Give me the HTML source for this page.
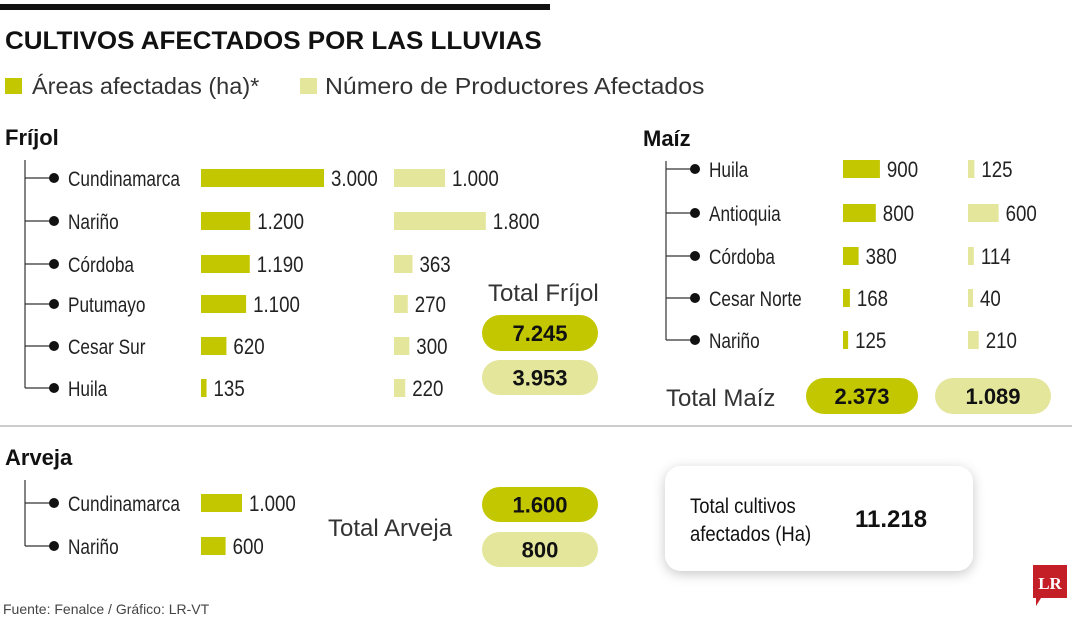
<!DOCTYPE html>
<html><head><meta charset="utf-8"><style>
body{margin:0;background:#fff;width:1080px;height:620px;overflow:hidden;position:relative;font-family:"Liberation Sans",sans-serif}
svg{position:absolute;left:0;top:0}
</style></head><body>
<svg id="chart" width="1080" height="620">
<defs><filter id="sh" x="-20%" y="-30%" width="140%" height="160%"><feDropShadow dx="0" dy="3" stdDeviation="6" flood-color="#000" flood-opacity="0.22"/></filter></defs>
<rect x="0" y="4" width="550" height="6" fill="#111"/>
<text transform="translate(5,49) scale(1.04,1)" font-weight="bold" font-size="25" fill="#111">CULTIVOS AFECTADOS POR LAS LLUVIAS</text>
<rect x="5" y="78" width="17" height="16" fill="#c3c700"/>
<text x="32" y="94" font-size="23.5" fill="#333">Áreas afectadas (ha)*</text>
<rect x="300" y="78" width="17" height="16" fill="#e3e69b"/>
<text transform="translate(325,94) scale(1.08,1)" font-size="23" fill="#333">Número de Productores Afectados</text>
<line x1="0" y1="426" x2="1072" y2="426" stroke="#999" stroke-width="1"/>
<rect x="665" y="466" width="308" height="105" rx="16" fill="#fff" filter="url(#sh)"/>
<text transform="translate(690,513) scale(0.88,1)" font-size="21" fill="#111">Total cultivos</text>
<text transform="translate(690,541) scale(0.88,1)" font-size="21" fill="#111">afectados (Ha)</text>
<text x="855" y="527" font-weight="bold" font-size="24" fill="#111">11.218</text>
<g><path d="M1033 565 H1067 V598 H1041 L1036 606 V598 H1033 Z" fill="#c41e26"/><text x="1050" y="589" text-anchor="middle" font-family="Liberation Serif" font-weight="bold" font-size="17" fill="#fff">LR</text></g>
<text x="3" y="614" font-size="14" fill="#444">Fuente: Fenalce / Gráfico: LR-VT</text>
</svg>
<script>
const frijolCats=["Cundinamarca","Nariño","Córdoba","Putumayo","Cesar Sur","Huila"];
const frijolAreas=[3000,1200,1190,1100,620,135];
const frijolProd=[1000,1800,363,270,300,220];
const maizCats=["Huila","Antioquia","Córdoba","Cesar Norte","Nariño"];
const maizAreas=[900,800,380,168,125];
const maizProd=[125,600,114,40,210];
const arvejaCats=["Cundinamarca","Nariño"];
const arvejaAreas=[1000,600];
const totalsArea=["7.245","2.373","1.600"];
const totalsProd=["3.953","1.089","800"];
const svg=document.getElementById('chart');
const NS="http://www.w3.org/2000/svg";
const DARK="#c3c700",LIGHT="#e3e69b";
function fmt(v){return v>=1000?Math.floor(v/1000)+"."+String(v%1000).padStart(3,"0"):String(v);}
function mk(tag,attrs,txt){const e=document.createElementNS(NS,tag);for(const k in attrs)e.setAttribute(k,attrs[k]);if(txt!==undefined)e.textContent=txt;svg.appendChild(e);return e;}
function ctext(x,y,size,sx,txt){return mk('text',{transform:'translate('+x+','+y+') scale('+sx+',1)','font-size':size,fill:'#222'},txt);}
function xA(v){return v*0.041;}
function xP(v){return v*0.051;}
function group(name,hx,hy,treeX,rowYs,cats,areas,prod,aX,pX){
  const h=mk('text',{x:hx,y:hy,'font-weight':'bold','font-size':22,fill:'#111'},name);
  
  
  const ln=mk('line',{x1:treeX,y1:hy+15,x2:treeX,y2:rowYs[rowYs.length-1],stroke:'#333','stroke-width':1.2});
  
  
  cats.forEach((c,i)=>{
    const y=rowYs[i];
    const br=mk('line',{x1:treeX,y1:y,x2:treeX+28,y2:y,stroke:'#333','stroke-width':1.2});
    
    
    const d=mk('circle',{cx:treeX+29,cy:y,r:5,fill:'#111'});
    
    
    const t=ctext(treeX+43,y+8,21,0.82,c);
    
    
    const w=Math.max(xA(areas[i]),5);
    const b=mk('rect',{x:aX,y:y-9,width:w,height:18,fill:DARK});
    
    
    const v=ctext(aX+w+7,y+8,22,0.85,fmt(areas[i]));
    
    
    if(prod){
      const w2=Math.max(xP(prod[i]),5);
      const b2=mk('rect',{x:pX,y:y-9,width:w2,height:18,fill:LIGHT});
      
      
      const v2=ctext(pX+w2+7,y+8,22,0.85,fmt(prod[i]));
      
      
    }
  });
}
group("Fríjol",5,145,25,[178,221,264,304,346,388],frijolCats,frijolAreas,frijolProd,201,394);
group("Maíz",643,146,666,[169,213,256,298,340],maizCats,maizAreas,maizProd,843,968);
group("Arveja",5,465,25,[503,546],arvejaCats,arvejaAreas,null,201,0);
function pill(x,y,w,h,fill,txt){
  const r=mk('rect',{x:x,y:y,width:w,height:h,rx:h/2,fill:fill});
  
  
  const t=mk('text',{x:x+w/2,y:y+h/2+8,'text-anchor':'middle','font-weight':'bold','font-size':22,fill:'#111'},txt);
  
  
}
function lbl(x,y,txt){
  const t=mk('text',{x:x,y:y,'font-size':24,fill:'#333'},txt);
  
  
}
lbl(488,301,"Total Fríjol");
pill(482,315,116,36,DARK,totalsArea[0]);
pill(482,360,116,35,LIGHT,totalsProd[0]);
lbl(666,406,"Total Maíz");
pill(806,378,112,36,DARK,totalsArea[1]);
pill(935,378,116,36,LIGHT,totalsProd[1]);
lbl(328,536,"Total Arveja");
pill(482,487,116,35,DARK,totalsArea[2]);
pill(482,532,116,35,LIGHT,totalsProd[2]);
</script>
</body></html>
